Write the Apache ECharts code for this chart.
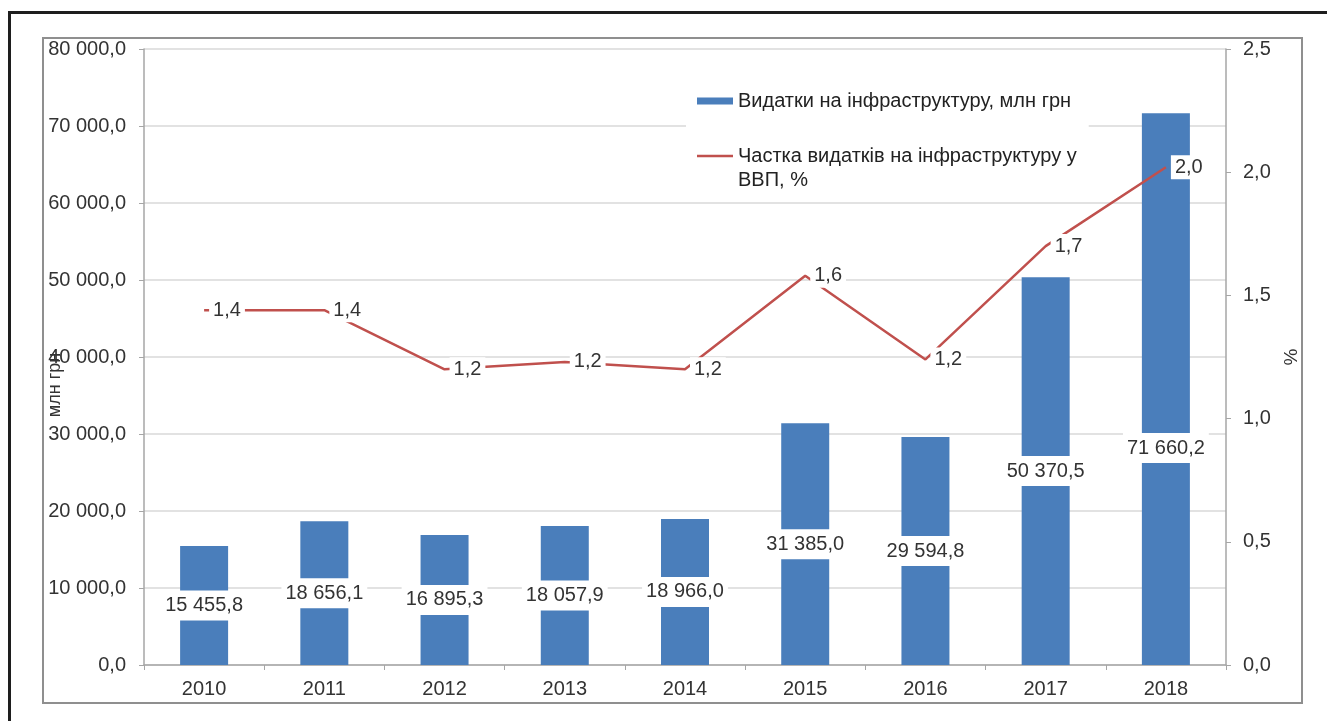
<!DOCTYPE html>
<html>
<head>
<meta charset="utf-8">
<script src="https://cdn.jsdelivr.net/npm/echarts@6/dist/echarts.min.js"></script>
<style>
html,body{margin:0;padding:0;background:#fff;}
#chart{width:1327px;height:721px;}
</style>
</head>
<body>
<div id="chart"></div>
<script>
const years = ['2010','2011','2012','2013','2014','2015','2016','2017','2018'];
const spending = [15455.8, 18656.1, 16895.3, 18057.9, 18966.0, 31385.0, 29594.8, 50370.5, 71660.2];
const shareGdp = [1.44, 1.44, 1.20, 1.23, 1.20, 1.58, 1.24, 1.70, 2.02];
const barName = 'Видатки на інфраструктуру, млн грн';
const lineName = 'Частка видатків на інфраструктуру у ВВП, %';
const leftAxisName = 'млн грн';
const rightAxisName = '%';

function fmt(v, d) {
  const parts = v.toFixed(d).split('.');
  parts[0] = parts[0].replace(/\B(?=(\d{3})+(?!\d))/g, ' ');
  return parts.join(',');
}

const FONT = 'Liberation Sans, Arial, sans-serif';
const TXT = '#333333';

const barData = spending.map((v, i) => {
  const item = { value: v };
  if (i === spending.length - 1) item.label = { offset: [0, 59] };
  return item;
});

const chart = echarts.init(document.getElementById('chart'), null, { renderer: 'canvas' });
chart.setOption({
  backgroundColor: '#ffffff',
  animation: false,
  textStyle: { fontFamily: FONT },
  graphic: [
    { type: 'rect', z: 100, silent: true, shape: { x: 9.5, y: 12.5, width: 1400, height: 800 },
      style: { fill: 'none', stroke: '#1e1e1e', lineWidth: 3 } },
    { type: 'rect', z: 100, silent: true, shape: { x: 43, y: 38, width: 1259, height: 665 },
      style: { fill: 'none', stroke: '#8f8f8f', lineWidth: 2 } }
  ],
  grid: { left: 144, right: 101, top: 49, bottom: 56, containLabel: false },
  legend: {
    orient: 'vertical', left: 686, top: 79, z: 20,
    backgroundColor: '#ffffff',
    padding: [10, 12, 8, 11],
    itemWidth: 36, itemHeight: 7, itemGap: 7,
    textStyle: { fontSize: 20, color: '#222', lineHeight: 24, fontFamily: FONT },
    data: [
      { name: barName, icon: 'rect' },
      { name: lineName, icon: 'path://M0,0H36V2.5H0Z' }
    ],
    formatter: function (name) {
      if (name === lineName) return '\nЧастка видатків на інфраструктуру у\nВВП, %';
      return name;
    }
  },
  xAxis: {
    type: 'category', data: years,
    axisLine: { lineStyle: { color: '#a6a6a6', width: 1.5 } },
    axisTick: { show: true, length: 5, lineStyle: { color: '#a6a6a6' } },
    axisLabel: { fontSize: 20, color: TXT, margin: 14, fontFamily: FONT },
    splitLine: { show: false }
  },
  yAxis: [
    {
      type: 'value', min: 0, max: 80000, interval: 10000,
      name: leftAxisName, nameLocation: 'middle', nameRotate: 90, nameGap: 80,
      nameMoveOverlap: false,
      nameTextStyle: { fontSize: 18, color: TXT, padding: [0, 56, 0, 0], fontFamily: FONT },
      axisLine: { show: true, lineStyle: { color: '#a6a6a6', width: 1.5 } },
      axisTick: { show: true, length: 5, lineStyle: { color: '#a6a6a6' } },
      axisLabel: { fontSize: 20, color: TXT, margin: 18, fontFamily: FONT,
        formatter: v => fmt(v, 1) },
      splitLine: { show: true, lineStyle: { color: '#d9d9d9', width: 1.5 } }
    },
    {
      type: 'value', min: 0, max: 2.5, interval: 0.5,
      name: rightAxisName, nameLocation: 'middle', nameRotate: 90, nameGap: 56,
      nameMoveOverlap: false,
      nameTextStyle: { fontSize: 19, color: TXT, fontFamily: FONT },
      axisLine: { show: true, lineStyle: { color: '#a6a6a6', width: 1.5 } },
      axisTick: { show: true, length: 5, lineStyle: { color: '#a6a6a6' } },
      axisLabel: { fontSize: 20, color: TXT, margin: 17, fontFamily: FONT,
        formatter: v => fmt(v, 1) },
      splitLine: { show: false }
    }
  ],
  series: [
    {
      name: barName, type: 'bar', yAxisIndex: 0, data: barData,
      barWidth: 48,
      itemStyle: { color: '#4a7ebb' },
      label: {
        show: true, position: 'inside', fontSize: 20, color: TXT, fontFamily: FONT,
        backgroundColor: '#ffffff', padding: [5, 4, 5, 4],
        formatter: p => fmt(p.value, 1)
      },
      z: 2
    },
    {
      name: lineName, type: 'line', yAxisIndex: 1, data: shareGdp,
      symbol: 'circle', symbolSize: 0, showSymbol: true,
      lineStyle: { color: '#c0504d', width: 2.5 },
      itemStyle: { color: '#c0504d' },
      label: {
        show: true, position: 'right', distance: 5, fontSize: 20, color: TXT, fontFamily: FONT,
        backgroundColor: '#ffffff', padding: [2, 4, 2, 4],
        formatter: p => fmt(p.value, 1)
      },
      z: 3
    }
  ]
});
</script>
</body>
</html>
